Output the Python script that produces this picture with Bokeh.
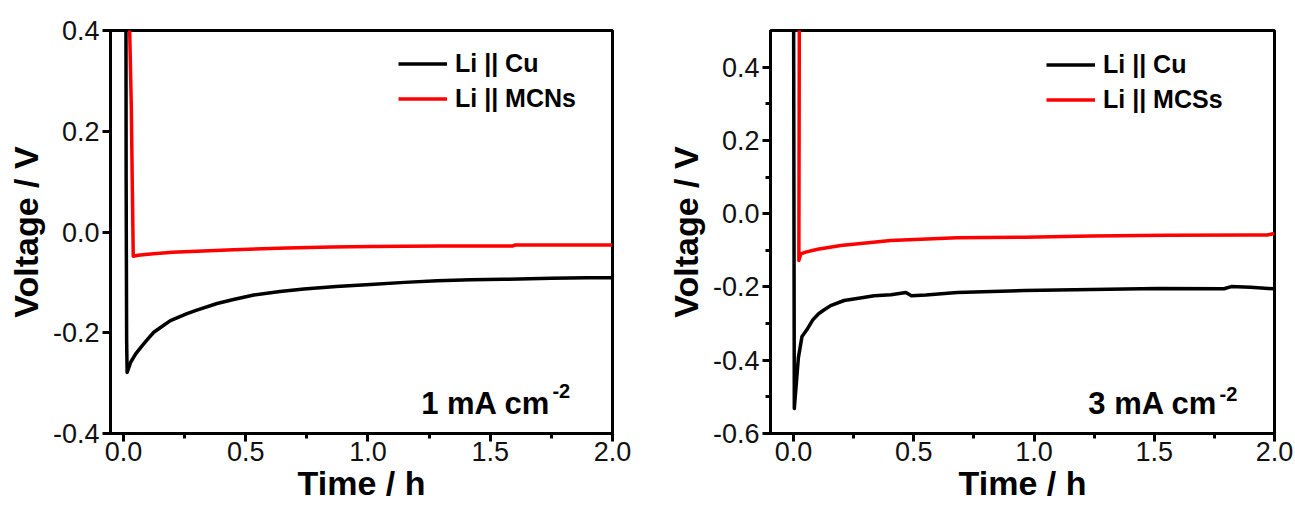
from bokeh.plotting import figure
from bokeh.layouts import row
from bokeh.models import (Range1d, FixedTicker, NumeralTickFormatter, Legend,
                          LegendItem, Label)
from bokeh.embed import file_html
from bokeh.resources import INLINE

# ---- 1 mA cm-2 : Li || Cu vs Li || MCNs ----
t_cu_1 = [0.010, 0.011, 0.013, 0.015, 0.030, 0.050, 0.076, 0.100, 0.124, 0.150,
          0.192, 0.260, 0.300, 0.383, 0.450, 0.533, 0.640, 0.738, 0.870, 1.010,
          1.150, 1.283, 1.420, 1.555, 1.750, 1.897, 2.000]
v_cu_1 = [0.500, 0.100, -0.215, -0.279, -0.258, -0.242, -0.226, -0.212, -0.199, -0.190,
          -0.176, -0.162, -0.155, -0.142, -0.134, -0.125, -0.118, -0.113, -0.108, -0.104,
          -0.100, -0.097, -0.095, -0.094, -0.092, -0.091, -0.091]

t_mcn_1 = [0.021, 0.032, 0.036, 0.040, 0.060, 0.100, 0.200, 0.300, 0.450, 0.670,
           0.850, 1.010, 1.300, 1.590, 1.600, 1.800, 2.000]
v_mcn_1 = [0.500, 0.250, 0.100, -0.048, -0.046, -0.044, -0.040, -0.038, -0.035, -0.032,
           -0.030, -0.029, -0.028, -0.028, -0.026, -0.026, -0.026]

# ---- 3 mA cm-2 : Li || Cu vs Li || MCSs ----
t_cu_3 = [0.000, 0.003, 0.020, 0.035, 0.058, 0.080, 0.104, 0.126, 0.154, 0.210,
          0.290, 0.335, 0.405, 0.467, 0.490, 0.550, 0.680, 0.960, 1.240, 1.515,
          1.790, 1.820, 1.900, 2.000]
v_cu_3 = [0.600, -0.532, -0.393, -0.335, -0.314, -0.290, -0.273, -0.263, -0.251, -0.237,
          -0.229, -0.224, -0.221, -0.215, -0.224, -0.222, -0.215, -0.210, -0.207, -0.204,
          -0.205, -0.199, -0.201, -0.205]

t_mcs_3 = [0.024, 0.022, 0.030, 0.050, 0.100, 0.196, 0.300, 0.404, 0.680, 0.960,
           1.240, 1.555, 1.900, 1.970, 2.000]
v_mcs_3 = [0.600, -0.128, -0.110, -0.105, -0.097, -0.087, -0.080, -0.073, -0.066, -0.064,
           -0.061, -0.059, -0.058, -0.058, -0.054]

x_ticks = [0.0, 0.5, 1.0, 1.5, 2.0]
x_minor = [0.25, 0.75, 1.25, 1.75]
y_ticks_1 = [-0.4, -0.2, 0.0, 0.2, 0.4]
y_ticks_3 = [-0.6, -0.4, -0.2, 0.0, 0.2, 0.4]
y_minor_3 = [-0.5, -0.3, -0.1, 0.1, 0.3]

FONT = "Liberation Sans"


def make_panel(width, border_left, border_right, x_range, y_range,
               y_ticks, y_minor, series, legend_xy, current_text, cur_x, cur_y, sup_y):
    p = figure(width=width, height=509, output_backend="svg", toolbar_location=None,
               x_range=Range1d(*x_range), y_range=Range1d(*y_range),
               min_border_left=border_left, min_border_right=border_right,
               min_border_top=30, min_border_bottom=76)
    p.grid.visible = False
    p.background_fill_color = "white"
    p.border_fill_color = "white"
    p.outline_line_color = "black"
    p.outline_line_width = 3

    for ax in (p.xaxis[0], p.yaxis[0]):
        ax.axis_line_width = 3
        ax.axis_line_color = "black"
        ax.major_tick_line_width = 3
        ax.minor_tick_line_width = 3
        ax.major_tick_in = 0
        ax.major_tick_out = 8
        ax.minor_tick_in = 0
        ax.minor_tick_out = 5
        ax.major_label_text_font = FONT
        ax.major_label_text_font_size = "27px"
        ax.major_label_text_color = "#111111"
        ax.axis_label_text_font = FONT
        ax.axis_label_text_font_size = "34px"
        ax.axis_label_text_font_style = "bold"
        ax.axis_label_text_color = "black"
        ax.formatter = NumeralTickFormatter(format="0.0")

    p.xaxis.ticker = FixedTicker(ticks=x_ticks, minor_ticks=x_minor)
    p.yaxis.ticker = FixedTicker(ticks=y_ticks, minor_ticks=y_minor)
    p.xaxis.axis_label = "Time / h"
    p.yaxis.axis_label = "Voltage / V"
    p.xaxis.major_label_standoff = 0
    p.xaxis.axis_label_standoff = 0
    p.yaxis.major_label_standoff = 3
    p.yaxis.axis_label_standoff = 5

    items = []
    for (tx, vy, color, name) in series:
        r = p.line(tx, vy, line_color=color, line_width=3.5, line_join="round")
        items.append(LegendItem(label=name, renderers=[r]))

    legend = Legend(items=items, location=legend_xy, orientation="vertical",
                    label_text_font=FONT, label_text_font_size="25px",
                    label_text_font_style="bold", label_text_color="black",
                    glyph_width=49, glyph_height=35, label_height=35,
                    label_standoff=8, spacing=0, padding=0, margin=0,
                    border_line_color=None, background_fill_alpha=0)
    p.add_layout(legend)

    p.add_layout(Label(x=cur_x, y=cur_y, text=current_text, text_align="right",
                       text_baseline="alphabetic", text_font=FONT,
                       text_font_size="31px", text_font_style="bold",
                       text_color="black"))
    p.add_layout(Label(x=cur_x, y=sup_y, text="-2", text_align="left",
                       text_baseline="alphabetic", text_font=FONT, x_offset=2,
                       text_font_size="20px", text_font_style="bold",
                       text_color="black"))
    return p


p1 = make_panel(650, 110, 38, (-0.053, 2.0), (-0.4, 0.4), y_ticks_1, [],
                [(t_cu_1, v_cu_1, "black", "Li || Cu"),
                 (t_mcn_1, v_mcn_1, "#ff0000", "Li || MCNs")],
                (288, 317), "1 mA cm", 1.746, -0.341, -0.315)

p2 = make_panel(645, 120, 21, (-0.096, 2.0), (-0.6, 0.5), y_ticks_3, y_minor_3,
                [(t_cu_3, v_cu_3, "black", "Li || Cu"),
                 (t_mcs_3, v_mcs_3, "#ff0000", "Li || MCSs")],
                (276, 316), "3 mA cm", 1.763, -0.518, -0.491)

layout = row(p1, p2)
open("out.html", "w").write(file_html(layout, INLINE))
